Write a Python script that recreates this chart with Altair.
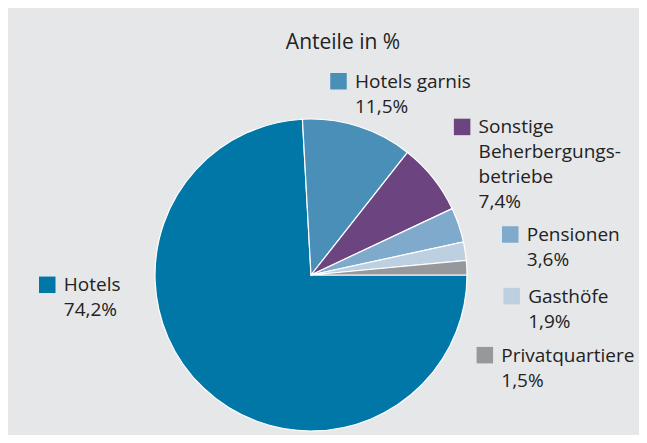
import altair as alt
import pandas as pd

# ---- data ----
categories = ["Hotels", "Hotels garnis", "Sonstige Beherbergungsbetriebe",
              "Pensionen", "Gasthöfe", "Privatquartiere"]
display_names = ["Hotels", "Hotels garnis", "Sonstige\nBeherbergungs-\nbetriebe",
                 "Pensionen", "Gasthöfe", "Privatquartiere"]
shares = [74.2, 11.5, 7.4, 3.6, 1.9, 1.5]
colors = ["#0077a7", "#4a8fb8", "#6c4580", "#80aacb", "#bcd0e2", "#96989c"]
title_text = ["Anteile in %"]

labels = [f"{n}\n{str(v).replace('.', ',')}%" for n, v in zip(display_names, shares)]
df = pd.DataFrame({"cat": categories, "share": shares, "label": labels,
                   "idx": list(range(len(categories)))})
total = sum(shares)

# ---- layout / style ----
PLOT = 312          # plot area (pie diameter)
R = PLOT / 2        # pie radius
C = PLOT / 2        # centre in plot coordinates
FONT = "Open Sans"
TXT = "#222222"
BG = "#e6e7e9"
# label offsets (text anchor relative to the slice's mid point on the rim)
label_offsets = {
    "Hotels": (-140, -97),
    "Hotels garnis": (-3, -38.5),
    "Sonstige Beherbergungsbetriebe": (45.5, -44.5),
    "Pensionen": (68, 16),
    "Gasthöfe": (63, 51.5),
    "Privatquartiere": (34.5, 94),
}

PI = 3.141592653589793
theta_scale = alt.Scale(domain=[0, total], range=[PI / 2, PI / 2 + 2 * PI])
color_scale = alt.Scale(domain=categories, range=colors)

base = alt.Chart(df)

arcs = base.mark_arc(radius=R, stroke="white", strokeWidth=1.2).encode(
    theta=alt.Theta("share:Q", stack=True, scale=theta_scale),
    color=alt.Color("cat:N", scale=color_scale, legend=None),
    order=alt.Order("idx:Q", sort="ascending"),
)

layers = [arcs]
for c, col in zip(categories, colors):
    ox, oy = label_offsets[c]
    lab = (
        base.transform_window(cum="sum(share)", sort=[alt.SortField("idx")], frame=[None, 0])
        .transform_calculate(
            ang=f"2*PI*(datum.cum - datum.share/2)/{total} + PI/2",
        )
        .transform_calculate(
            tx=f"{C} + {R}*sin(datum.ang) + {ox}",
            ty=f"{C} - {R}*cos(datum.ang) + {oy}",
        )
        .transform_calculate(sx="datum.tx - 16.5", sy="datum.ty - 6.5")
        .transform_filter(alt.datum.cat == c)
    )
    txt = lab.mark_text(align="left", baseline="alphabetic", lineBreak="\n",
                        lineHeight=25, fontSize=19, font=FONT, color=TXT).encode(
        x=alt.X("tx:Q", scale=None), y=alt.Y("ty:Q", scale=None), text="label:N")
    sq = lab.mark_square(size=272, opacity=1, color=col).encode(
        x=alt.X("sx:Q", scale=None), y=alt.Y("sy:Q", scale=None))
    layers += [sq, txt]

title = alt.Chart(pd.DataFrame({"t": title_text})).mark_text(
    align="center", baseline="alphabetic", fontSize=21, font=FONT, color=TXT
).encode(x=alt.value(C + 32), y=alt.value(-70), text="t:N")
layers.append(title)

chart = alt.layer(*layers).properties(
    width=PLOT, height=PLOT,
    autosize=alt.AutoSizeParams(type="none"),
    padding={"left": 147, "top": 111, "right": 172, "bottom": 4},
    background=BG,
).configure_view(stroke=None)

chart.save("out.html", embed_options={"renderer": "svg", "actions": False})
